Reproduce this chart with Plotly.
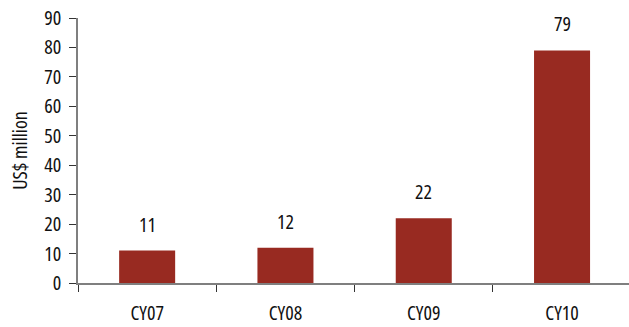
import plotly.graph_objects as go

years = ["CY07", "CY08", "CY09", "CY10"]
revenue = [11, 12, 22, 79]
y_ticks = [0, 10, 20, 30, 40, 50, 60, 70, 80, 90]

FONT = "Open Sans"
SIZE = 20
BAR_COLOR = "#982A21"
AXIS_COLOR = "#7F7F7F"


def font(size=SIZE):
    return dict(family=FONT, size=size, color="#111111")


fig = go.Figure()
fig.add_trace(go.Bar(
    x=years, y=revenue, marker=dict(color=BAR_COLOR, line=dict(width=0)),
    width=0.405, hoverinfo="skip",
))

for name, v in zip(years, revenue):
    fig.add_annotation(x=name, y=v, text=str(v), showarrow=False,
                       yanchor="bottom", yshift=11, font=font())

fig.update_layout(
    width=629, height=327,
    margin=dict(l=78, r=0, t=18, b=44),
    paper_bgcolor="white", plot_bgcolor="white",
    showlegend=False,
    font=font(),
    xaxis=dict(
        type="category", range=[-0.5, -0.5 + 551 / 138.3], automargin=False,
        showline=True, linecolor=AXIS_COLOR, linewidth=1.5,
        ticks="outside", tickson="boundaries", ticklen=7, tickcolor="#333333",
        tickwidth=1, showgrid=False, tickfont=font(),
        ticklabelstandoff=11,
    ),
    yaxis=dict(
        range=[0, 90], tickvals=y_ticks, automargin=False,
        showline=True, linecolor=AXIS_COLOR,
        linewidth=1.5, ticks="outside", ticklen=7, tickcolor="#333333",
        showgrid=False, zeroline=False, tickfont=font(), ticklabelstandoff=4,
        title=dict(text="US$ million", font=font(), standoff=5),
    ),
)

# condensed letterforms for all chart text
condense = """
var s = document.createElement('style');
s.textContent = 'svg text { font-stretch: condensed !important; }';
document.head.appendChild(s);
"""
fig.write_html("out.html", post_script=condense)
